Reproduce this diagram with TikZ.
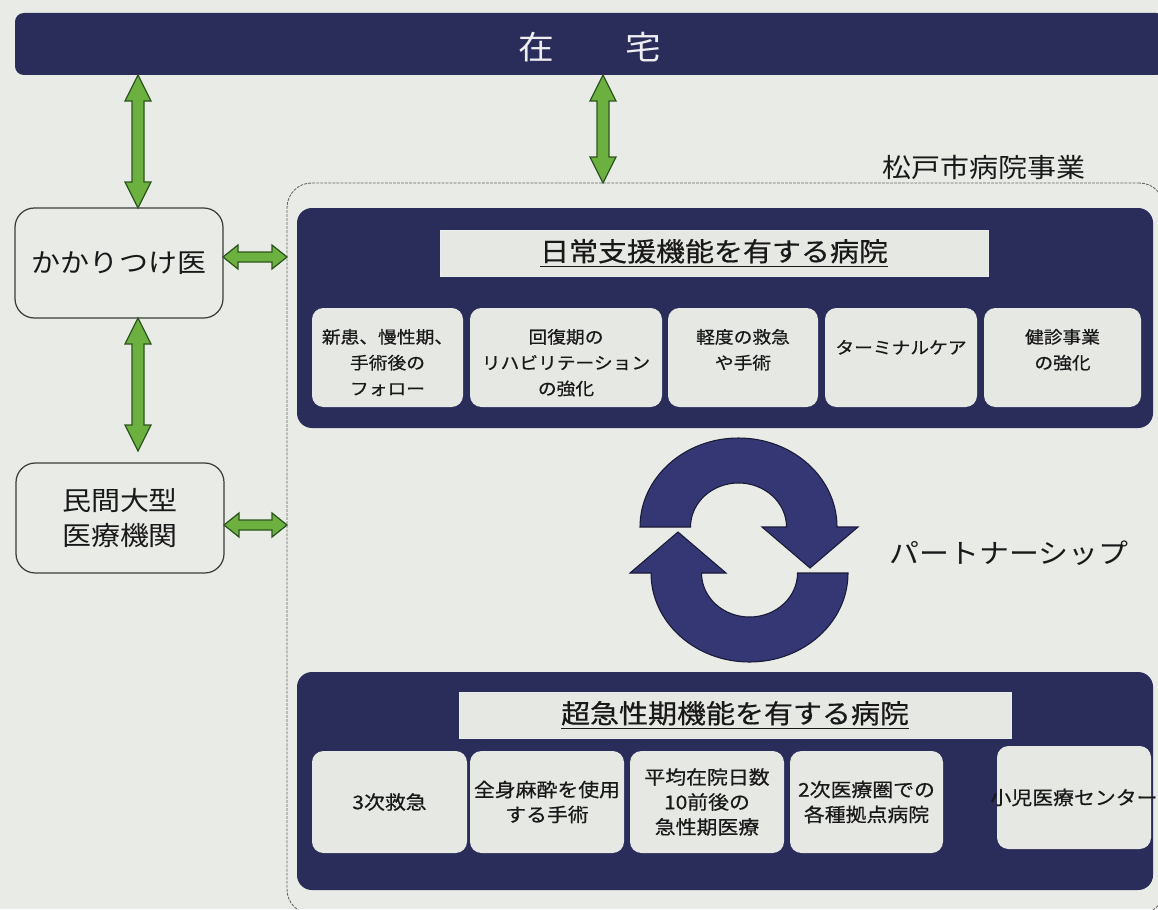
\documentclass[tikz,border=0pt]{standalone}
\usepackage{fontspec}
\setmainfont{Noto Sans CJK JP}[FakeStretch=1.1]
\newfontfamily\jpmed{Noto Sans CJK JP}[FakeStretch=1.1, FakeBold=0.6]
\usetikzlibrary{calc,fit}
\definecolor{bg}{RGB}{232,235,230}
\definecolor{navy}{RGB}{42,44,90}
\definecolor{cyc}{RGB}{52,55,115}
\definecolor{cycline}{RGB}{25,26,55}
\definecolor{lightbox}{RGB}{229,232,227}
\definecolor{gfill}{RGB}{108,176,64}
\definecolor{gline}{RGB}{45,85,30}
\definecolor{ink}{RGB}{25,25,25}
\tikzset{
  fatarrow/.style={fill=gfill, draw=gline, line width=0.7pt, line join=miter},
  sidebox/.style={draw=ink!85, line width=0.7pt, rounded corners=11pt, fill=bg},
  sidetext/.style={align=center, font=\fontsize{15pt}{19.5pt}\selectfont},
  navybox/.style={fill=navy, rounded corners=8.5pt},
  titlebox/.style={fill=lightbox, draw=lightbox!80!white, line width=0.4pt},
  titletext/.style={font=\jpmed\fontsize{15pt}{18pt}\selectfont},
  subbox/.style={fill=lightbox, rounded corners=6.5pt},
  tsub/.style={align=center, font=\jpmed\fontsize{9.7pt}{14.7pt}\selectfont},
  bsub/.style={align=center, font=\jpmed\fontsize{10.8pt}{14.2pt}\selectfont},
  outerbox/.style={draw=black!60, line width=0.5pt, dash pattern=on 1.6pt off 0.7pt, rounded corners=14pt},
  plain/.style={font=\fontsize{15pt}{18pt}\selectfont}
}
% vertical fat double arrow: #1 top tip, #2 bottom tip
\newcommand\vfatarrow[2]{%
  \filldraw[fatarrow] (#1) -- ($(#1)+(13,26)$) -- ($(#1)+(6,26)$) -- ($(#2)+(6,-26)$)
    -- ($(#2)+(13,-26)$) -- (#2) -- ($(#2)+(-13,-26)$) -- ($(#2)+(-6,-26)$)
    -- ($(#1)+(-6,26)$) -- ($(#1)+(-13,26)$) -- cycle;}
% horizontal fat double arrow: #1 left tip, #2 right tip
\newcommand\hfatarrow[2]{%
  \filldraw[fatarrow] (#1) -- ($(#1)+(15,-12)$) -- ($(#1)+(15,-5)$) -- ($(#2)+(-15,-5)$)
    -- ($(#2)+(-15,-12)$) -- (#2) -- ($(#2)+(-15,12)$) -- ($(#2)+(-15,5)$)
    -- ($(#1)+(15,5)$) -- ($(#1)+(15,12)$) -- cycle;}
\begin{document}
\begin{tikzpicture}[x=0.02cm,y=-0.02cm,
  every node/.style={inner sep=0pt, outer sep=0pt, text=ink}]
\useasboundingbox (0,0) rectangle (1158,909);
\fill[bg] (0,0) rectangle (1158,909);

% top bar
\node[fit={(15,13)(1165,75)}, fill=navy, rounded corners=5pt] (bar) {};
\node[text=white!92!navy, font=\fontsize{18.5pt}{20pt}\selectfont] (zaitaku) at (590,47) {在　　宅};

% outer (Matsudo city hospital) frame
\node[outerbox, fit={(287,183)(1164,914)}] (outer) {};
\node[plain] (mlabel) at (984,167) {松戸市病院事業};

% left boxes
\node[sidebox, fit={(15,208)(223,318)}] (kak) {};
\node[sidetext] (kakt) at (kak.center) {かかりつけ医};
\node[sidebox, fit={(16,463)(224,573)}] (min) {};
\node[sidetext] (mint) at (min.center) {民間大型\\医療機関};

% upper hospital block
\node[navybox, fit={(297,208)(1153,428)}] (upper) {};
\node[titlebox, fit={(440,230)(988,276)}] (utitle) {};
\node[titletext] (utitlet) at (utitle.center) {\underline{日常支援機能を有する病院}};
\node[subbox, fit={(312,308)(463,407)}] (u1) {};
\node[subbox, fit={(470,308)(662,407)}] (u2) {};
\node[subbox, fit={(668,308)(818,407)}] (u3) {};
\node[subbox, fit={(825,308)(977,407)}] (u4) {};
\node[subbox, fit={(984,308)(1141,407)}] (u5) {};
\node[tsub, anchor=north] (u1t) at ($(u1.north)+(0,21)$) {新患、慢性期、\\手術後の\\フォロー};
\node[tsub, anchor=north] (u2t) at ($(u2.north)+(0,21)$) {回復期の\\リハビリテーション\\の強化};
\node[tsub, anchor=north] (u3t) at ($(u3.north)+(0,21)$) {軽度の救急\\や手術};
\node[tsub, anchor=north] (u4t) at ($(u4.north)+(0,32)$) {ターミナルケア};
\node[tsub, anchor=north] (u5t) at ($(u5.north)+(0,21)$) {健診事業\\の強化};

% lower hospital block
\node[navybox, fit={(297,672)(1153,890)}] (lower) {};
\node[titlebox, fit={(459,692)(1011,738)}] (ltitle) {};
\node[titletext] (ltitlet) at (ltitle.center) {\underline{超急性期機能を有する病院}};
\node[subbox, fit={(312,751)(467,853)}] (l1) {};
\node[subbox, fit={(470,751)(624,853)}] (l2) {};
\node[subbox, fit={(630,751)(784,853)}] (l3) {};
\node[subbox, fit={(790,751)(943,853)}] (l4) {};
\node[subbox, fit={(997,746)(1151,849)}] (l5) {};
\node[bsub] (l1t) at (l1.center) {3次救急};
\node[bsub] (l2t) at (l2.center) {全身麻酔を使用\\する手術};
\node[bsub] (l3t) at (l3.center) {平均在院日数\\10前後の\\急性期医療};
\node[bsub] (l4t) at (l4.center) {2次医療圏での\\各種拠点病院};
\node[bsub] (l5t) at (l5.center) {小児医療センター};

% partnership cycle arrows
\filldraw[fill=cyc, draw=cycline, line width=0.6pt]
  (640,527) arc[start angle=180, end angle=360, x radius=98.5, y radius=89]
  -- (858,527) -- (810,568) -- (762,527) -- (786.5,527)
  arc[start angle=0, end angle=-180, x radius=48, y radius=44] -- cycle;
\filldraw[fill=cyc, draw=cycline, line width=0.6pt]
  (848,573) arc[start angle=0, end angle=180, x radius=98.5, y radius=89]
  -- (630,573) -- (678,532) -- (726,573) -- (701.5,573)
  arc[start angle=180, end angle=0, x radius=48, y radius=44] -- cycle;
\node[plain, font=\fontsize{15.5pt}{18pt}\selectfont] (partner) at (1009,553) {パートナーシップ};

% connector helper coordinates
\coordinate (lx) at (138,0);
\coordinate (mx) at (603,0);
\coordinate (a1) at (lx |- bar.south);
\coordinate (a2) at (lx |- kak.north);
\coordinate (a3) at (lx |- kak.south);
\coordinate (a4) at ($(lx |- min.north)+(0,-12)$);
\coordinate (b1) at (mx |- bar.south);
\coordinate (b2) at (mx |- outer.north);
\coordinate (h1) at ($(kak.east)+(0,-6)$);
\coordinate (h2) at (h1 -| outer.west);
\coordinate (h3) at ($(min.east)+(0,7)$);
\coordinate (h4) at (h3 -| outer.west);

\vfatarrow{a1}{a2}
\vfatarrow{a3}{a4}
\vfatarrow{b1}{b2}
\hfatarrow{h1}{h2}
\hfatarrow{h3}{h4}
\end{tikzpicture}
\end{document}
